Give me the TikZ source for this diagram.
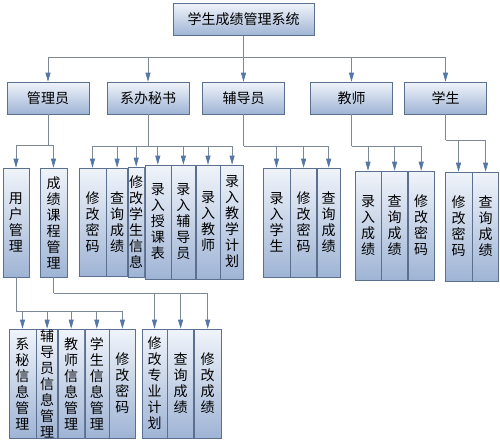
\documentclass[tikz,border=0pt]{standalone}
\usepackage{fontspec}
\setmainfont{Noto Sans CJK SC}
\usepackage{tikz}
\usetikzlibrary{positioning}
\usetikzlibrary{arrows.meta}
\definecolor{boxline}{HTML}{5B6F8E}
\definecolor{boxtop}{HTML}{F0F4FA}
\definecolor{boxbottom}{HTML}{9FB4D5}
\definecolor{lineclr}{HTML}{7D8896}
\definecolor{arrowclr}{HTML}{5577A6}
\tikzset{>={Triangle[width=5pt,length=9pt,color=arrowclr]}}

\begin{document}
\begin{tikzpicture}[x=1pt, y=-1pt, box/.style={draw=boxline, top color=boxtop, bottom color=boxbottom, line width=0.6pt, inner sep=0pt, font=\fontsize{14}{16}\selectfont}, hbox/.style={box, minimum width=82pt, minimum height=32pt}, vbox/.style={box, align=center, minimum height=109pt}, line/.style={draw=lineclr, line width=0.7pt}]
    \useasboundingbox (0,0) rectangle (500,442);

    %Nodes
    \node[hbox, minimum width=141pt](system) at (243.5,19.5){学生成绩管理系统};
    \node[hbox](admin) at (48,98){管理员};
    \node[hbox](secretary) at (148,98){系办秘书};
    \node[hbox](counsellor) at (243.5,98){辅导员};
    \node[hbox](teacher) at (351.5,98){教师};
    \node[hbox](student) at (445.5,98){学生};

    \node[vbox, minimum width=26pt](user_mgr) at (16,222.5){用\\户\\管\\理};
    \node[vbox, minimum width=27pt](grade_mgr) at (53.5,222.5){成\\绩\\课\\程\\管\\理};

    \node[vbox, minimum width=27pt, minimum height=108pt](sec_pwd) at (92.5,222){修\\改\\密\\码};
    \node[vbox, minimum width=21pt, minimum height=108pt](sec_query)[right=0pt of sec_pwd]{查\\询\\成\\绩};
    \node[vbox, minimum width=16pt, minimum height=110pt](sec_info)[right=0pt of sec_query]{修\\改\\学\\生\\信\\息};
    \node[vbox, minimum width=26pt, minimum height=114pt](sec_course)[right=0pt of sec_info]{录\\入\\授\\课\\表};
    \node[vbox, minimum width=24pt, minimum height=114pt](sec_couns)[right=0pt of sec_course]{录\\入\\辅\\导\\员};
    \node[vbox, minimum width=24pt, minimum height=114pt](sec_teacher)[right=0pt of sec_couns]{录\\入\\教\\师};
    \node[vbox, minimum width=23pt, minimum height=114pt](sec_plan)[right=0pt of sec_teacher]{录\\入\\教\\学\\计\\划};

    \node[vbox, minimum width=27pt](couns_add) at (276.5,222.5){录\\入\\学\\生};
    \node[vbox, minimum width=26pt](couns_pwd)[right=0pt of couns_add]{修\\改\\密\\码};
    \node[vbox, minimum width=23pt](couns_query)[right=0pt of couns_pwd]{查\\询\\成\\绩};

    \node[vbox, minimum width=26pt](teacher_add) at (368,225.5){录\\入\\成\\绩};
    \node[vbox, minimum width=26pt](teacher_query)[right=0pt of teacher_add]{查\\询\\成\\绩};
    \node[vbox, minimum width=26pt](teacher_pwd)[right=0pt of teacher_query]{修\\改\\密\\码};

    \node[vbox, minimum width=27pt](student_pwd) at (458.5,226.5){修\\改\\密\\码};
    \node[vbox, minimum width=26pt](student_query)[right=0pt of student_pwd]{查\\询\\成\\绩};

    \node[vbox, minimum width=27pt](user_sec) at (22.5,383.5){系\\秘\\信\\息\\管\\理};
    \node[vbox, minimum width=21pt](user_couns)[right=0pt of user_sec]{辅\\导\\员\\信\\息\\管\\理};
    \node[vbox, minimum width=26pt](user_teacher)[right=0pt of user_couns]{教\\师\\信\\息\\管\\理};
    \node[vbox, minimum width=24pt](user_student)[right=0pt of user_teacher]{学\\生\\信\\息\\管\\理};
    \node[vbox, minimum width=26pt](user_pwd)[right=0pt of user_student]{修\\改\\密\\码};

    \node[vbox, minimum width=25pt](grade_plan) at (154.5,383.5){修\\改\\专\\业\\计\\划};
    \node[vbox, minimum width=26pt](grade_query)[right=0pt of grade_plan]{查\\询\\成\\绩};
    \node[vbox, minimum width=27pt](grade_edit)[right=0pt of grade_query]{修\\改\\成\\绩};

    \coordinate (top_bus) at (243.5,57);
    \coordinate (admin_bus) at (48,145);
    \coordinate (sec_bus) at (148,146);
    \coordinate (couns_bus) at (243.5,146);
    \coordinate (teacher_bus) at (351.5,146);
    \coordinate (student_bus) at (445.5,140);
    \coordinate (user_bus) at (16,311);
    \coordinate (grade_bus) at (53.5,293);

    %Lines
    \draw[line,->] (system) -- (counsellor);
    \draw[line,->] (top_bus) -| (admin);
    \draw[line,->] (top_bus) -| (secretary);
    \draw[line,->] (top_bus) -| (teacher);
    \draw[line,->] (top_bus) -| (student);

    \draw[line] (admin) -- (admin_bus);
    \draw[line,->] (admin_bus) -| (user_mgr);
    \draw[line,->] (admin_bus) -| (grade_mgr);

    \draw[line] (secretary) -- (sec_bus);
    \draw[line,->] (sec_bus) -| (sec_pwd);
    \draw[line,->] (sec_bus) -| (sec_query);
    \draw[line,->] (sec_bus) -| (sec_info);
    \draw[line,->] (sec_bus) -| (sec_course);
    \draw[line,->] (sec_bus) -| (sec_couns);
    \draw[line,->] (sec_bus) -| (sec_teacher);
    \draw[line,->] (sec_bus) -| (sec_plan);

    \draw[line] (counsellor) -- (couns_bus);
    \draw[line,->] (couns_bus) -| (couns_add);
    \draw[line,->] (couns_bus) -| (couns_pwd);
    \draw[line,->] (couns_bus) -| (couns_query);

    \draw[line] (teacher) -- (teacher_bus);
    \draw[line,->] (teacher_bus) -| (teacher_add);
    \draw[line,->] (teacher_bus) -| (teacher_query);
    \draw[line,->] (teacher_bus) -| (teacher_pwd);

    \draw[line] (student) -- (student_bus);
    \draw[line,->] (student_bus) -| (student_pwd);
    \draw[line,->] (student_bus) -| (student_query);

    \draw[line] (user_mgr) -- (user_bus);
    \draw[line,->] (user_bus) -| (user_sec);
    \draw[line,->] (user_bus) -| (user_couns);
    \draw[line,->] (user_bus) -| (user_teacher);
    \draw[line,->] (user_bus) -| (user_student);
    \draw[line,->] (user_bus) -| (user_pwd);

    \draw[line] (grade_mgr) -- (grade_bus);
    \draw[line,->] (grade_bus) -| (grade_plan);
    \draw[line,->] (grade_bus) -| (grade_query);
    \draw[line,->] (grade_bus) -| (grade_edit);

\end{tikzpicture}
\end{document}
